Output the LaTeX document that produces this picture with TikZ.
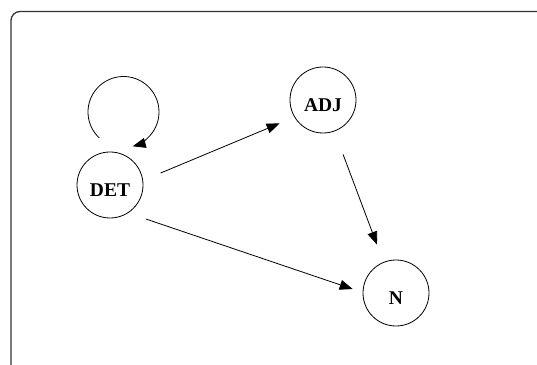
\documentclass[tikz,border=0pt]{standalone}
\usepackage{fontspec}
\setmainfont{Liberation Serif}
\usetikzlibrary{arrows.meta}
\begin{document}
\begin{tikzpicture}[x=1pt,y=1pt,
  state/.style={draw, circle, line width=0.8pt, minimum size=66pt, inner sep=0pt,
    font=\fontsize{19.5}{20}\selectfont\bfseries, text height=23pt, text depth=0pt},
  arr/.style={line width=0.8pt, -{Triangle[length=13pt,width=10pt]}},
  frame/.style={draw=black!80, line width=1.3pt, rounded corners=9pt}]
\useasboundingbox (0,0) rectangle (537,364);
\draw[frame] (11,-20) -- (11,352.5) -- (570,352.5);
\node[state] (det) at (110,179) {DET};
\node[state] (adj) at (323,264) {ADJ};
\node[state] (n) at (396,71) {N};
\coordinate (loopc) at (123.5,252);
\draw[arr] ([shift={(227:35.5)}]loopc) arc[start angle=227, end angle=-75, radius=35.5];
\draw[arr, shorten <=19pt, shorten >=16pt] (det.8) -- (adj.211);
\draw[arr, shorten <=19pt, shorten >=10.5pt] (det.-57.5) -- (n.179);
\draw[arr, shorten <=24.6pt, shorten >=18.6pt] (adj.-70) -- (n.112);
\end{tikzpicture}
\end{document}
